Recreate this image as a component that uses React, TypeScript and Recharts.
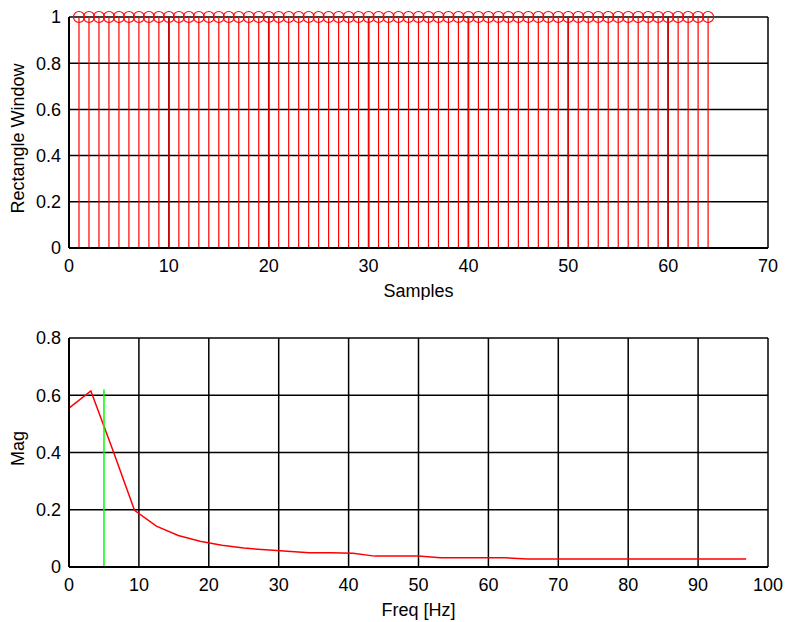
import React from 'react';
import { ComposedChart, LineChart, Bar, Line, XAxis, YAxis, CartesianGrid, ReferenceLine } from 'recharts';

// top plot: rectangular window, 64 samples all equal to 1
const windowValues = [
  1, 1, 1, 1, 1, 1, 1, 1, 1, 1, 1, 1, 1, 1, 1, 1,
  1, 1, 1, 1, 1, 1, 1, 1, 1, 1, 1, 1, 1, 1, 1, 1,
  1, 1, 1, 1, 1, 1, 1, 1, 1, 1, 1, 1, 1, 1, 1, 1,
  1, 1, 1, 1, 1, 1, 1, 1, 1, 1, 1, 1, 1, 1, 1, 1,
];
const sampleTicks = [0, 10, 20, 30, 40, 50, 60, 70];
const windowTicks = [0, 0.2, 0.4, 0.6, 0.8, 1];

// bottom plot: magnitude spectrum
const freqs = [
  0, 3.125, 6.25, 9.375, 12.5, 15.625, 18.75, 21.875, 25, 28.125, 31.25, 34.375,
  37.5, 40.625, 43.75, 46.875, 50, 53.125, 56.25, 59.375, 62.5, 65.625, 68.75,
  71.875, 75, 78.125, 81.25, 84.375, 87.5, 90.625, 93.75, 96.875,
];
const mags = [
  0.555, 0.615, 0.41, 0.198, 0.143, 0.11, 0.09, 0.076, 0.066, 0.06, 0.055, 0.05,
  0.05, 0.048, 0.038, 0.038, 0.038, 0.032, 0.032, 0.032, 0.032, 0.028, 0.028,
  0.028, 0.028, 0.028, 0.028, 0.028, 0.028, 0.028, 0.028, 0.028,
];
const freqTicks = [0, 10, 20, 30, 40, 50, 60, 70, 80, 90, 100];
const magTicks = [0, 0.2, 0.4, 0.6, 0.8];
const markerFreq = 5;
const markerSpan = [0, 0.62];

const FONT = '"Liberation Sans", Arial, sans-serif';
const RED = '#ff0000';
const FS = 18;
const tickStyle = { fill: '#000', fontSize: FS, fontFamily: FONT };
const labelStyle = { fill: '#000', fontSize: FS, fontFamily: FONT };

const stemData = windowValues.map((v, i) => ({ n: i + 1, w: v }));
const specData = freqs.map((f, i) => ({ f, mag: mags[i] }));

const Stem = (props: any) => {
  const { x, y, width, height } = props;
  const cx = x + width / 2;
  return (
    <g>
      <line x1={cx} y1={y} x2={cx} y2={y + height} stroke={RED} strokeWidth={1.2} />
      <circle cx={cx} cy={y} r={5.5} fill="none" stroke={RED} strokeWidth={1.2} />
    </g>
  );
};

export default function App() {
  return (
    <div style={{ position: 'absolute', left: 0, top: 0, width: 787, height: 622, background: '#fff', fontFamily: FONT }}>
      <div style={{ position: 'absolute', left: 0, top: 0 }}>
        <ComposedChart width={787} height={300} data={stemData} margin={{ top: 17, right: 19, left: 10, bottom: 0 }}>
          <CartesianGrid stroke="#000" strokeWidth={1.5} />
          <XAxis
            dataKey="n"
            type="number"
            domain={[0, 70]}
            ticks={sampleTicks}
            tickLine={false}
            axisLine={{ stroke: '#000', strokeWidth: 2 }}
            tick={tickStyle}
            tickMargin={5}
            height={52}
            label={{ value: 'Samples', position: 'insideBottom', offset: 3, style: labelStyle }}
          />
          <YAxis
            type="number"
            domain={[0, 1]}
            ticks={windowTicks}
            tickLine={false}
            axisLine={{ stroke: '#000', strokeWidth: 2 }}
            tick={tickStyle}
            width={59}
            label={{ value: 'Rectangle Window', angle: -90, position: 'insideLeft', offset: 8, dy: 6, style: { ...labelStyle, textAnchor: 'middle' } }}
          />
          <Bar dataKey="w" barSize={2} shape={Stem} isAnimationActive={false} />
        </ComposedChart>
      </div>
      <div style={{ position: 'absolute', left: 0, top: 310 }}>
        <LineChart width={787} height={312} data={specData} margin={{ top: 28, right: 19, left: 10, bottom: 0 }}>
          <CartesianGrid stroke="#000" strokeWidth={1.5} />
          <XAxis
            dataKey="f"
            type="number"
            domain={[0, 100]}
            ticks={freqTicks}
            tickLine={false}
            axisLine={{ stroke: '#000', strokeWidth: 2 }}
            tick={tickStyle}
            tickMargin={5}
            height={55}
            label={{ value: 'Freq [Hz]', position: 'insideBottom', offset: 6, style: labelStyle }}
          />
          <YAxis
            type="number"
            domain={[0, 0.8]}
            ticks={magTicks}
            tickLine={false}
            axisLine={{ stroke: '#000', strokeWidth: 2 }}
            tick={tickStyle}
            width={59}
            label={{ value: 'Mag', angle: -90, position: 'insideLeft', offset: 8, dy: -4, style: { ...labelStyle, textAnchor: 'middle' } }}
          />
          <Line dataKey="mag" stroke={RED} strokeWidth={1.5} dot={false} isAnimationActive={false} />
          <ReferenceLine
            segment={[{ x: markerFreq, y: markerSpan[0] }, { x: markerFreq, y: markerSpan[1] }]}
            stroke="#00ff00"
            strokeWidth={1.5}
          />
        </LineChart>
      </div>
    </div>
  );
}
